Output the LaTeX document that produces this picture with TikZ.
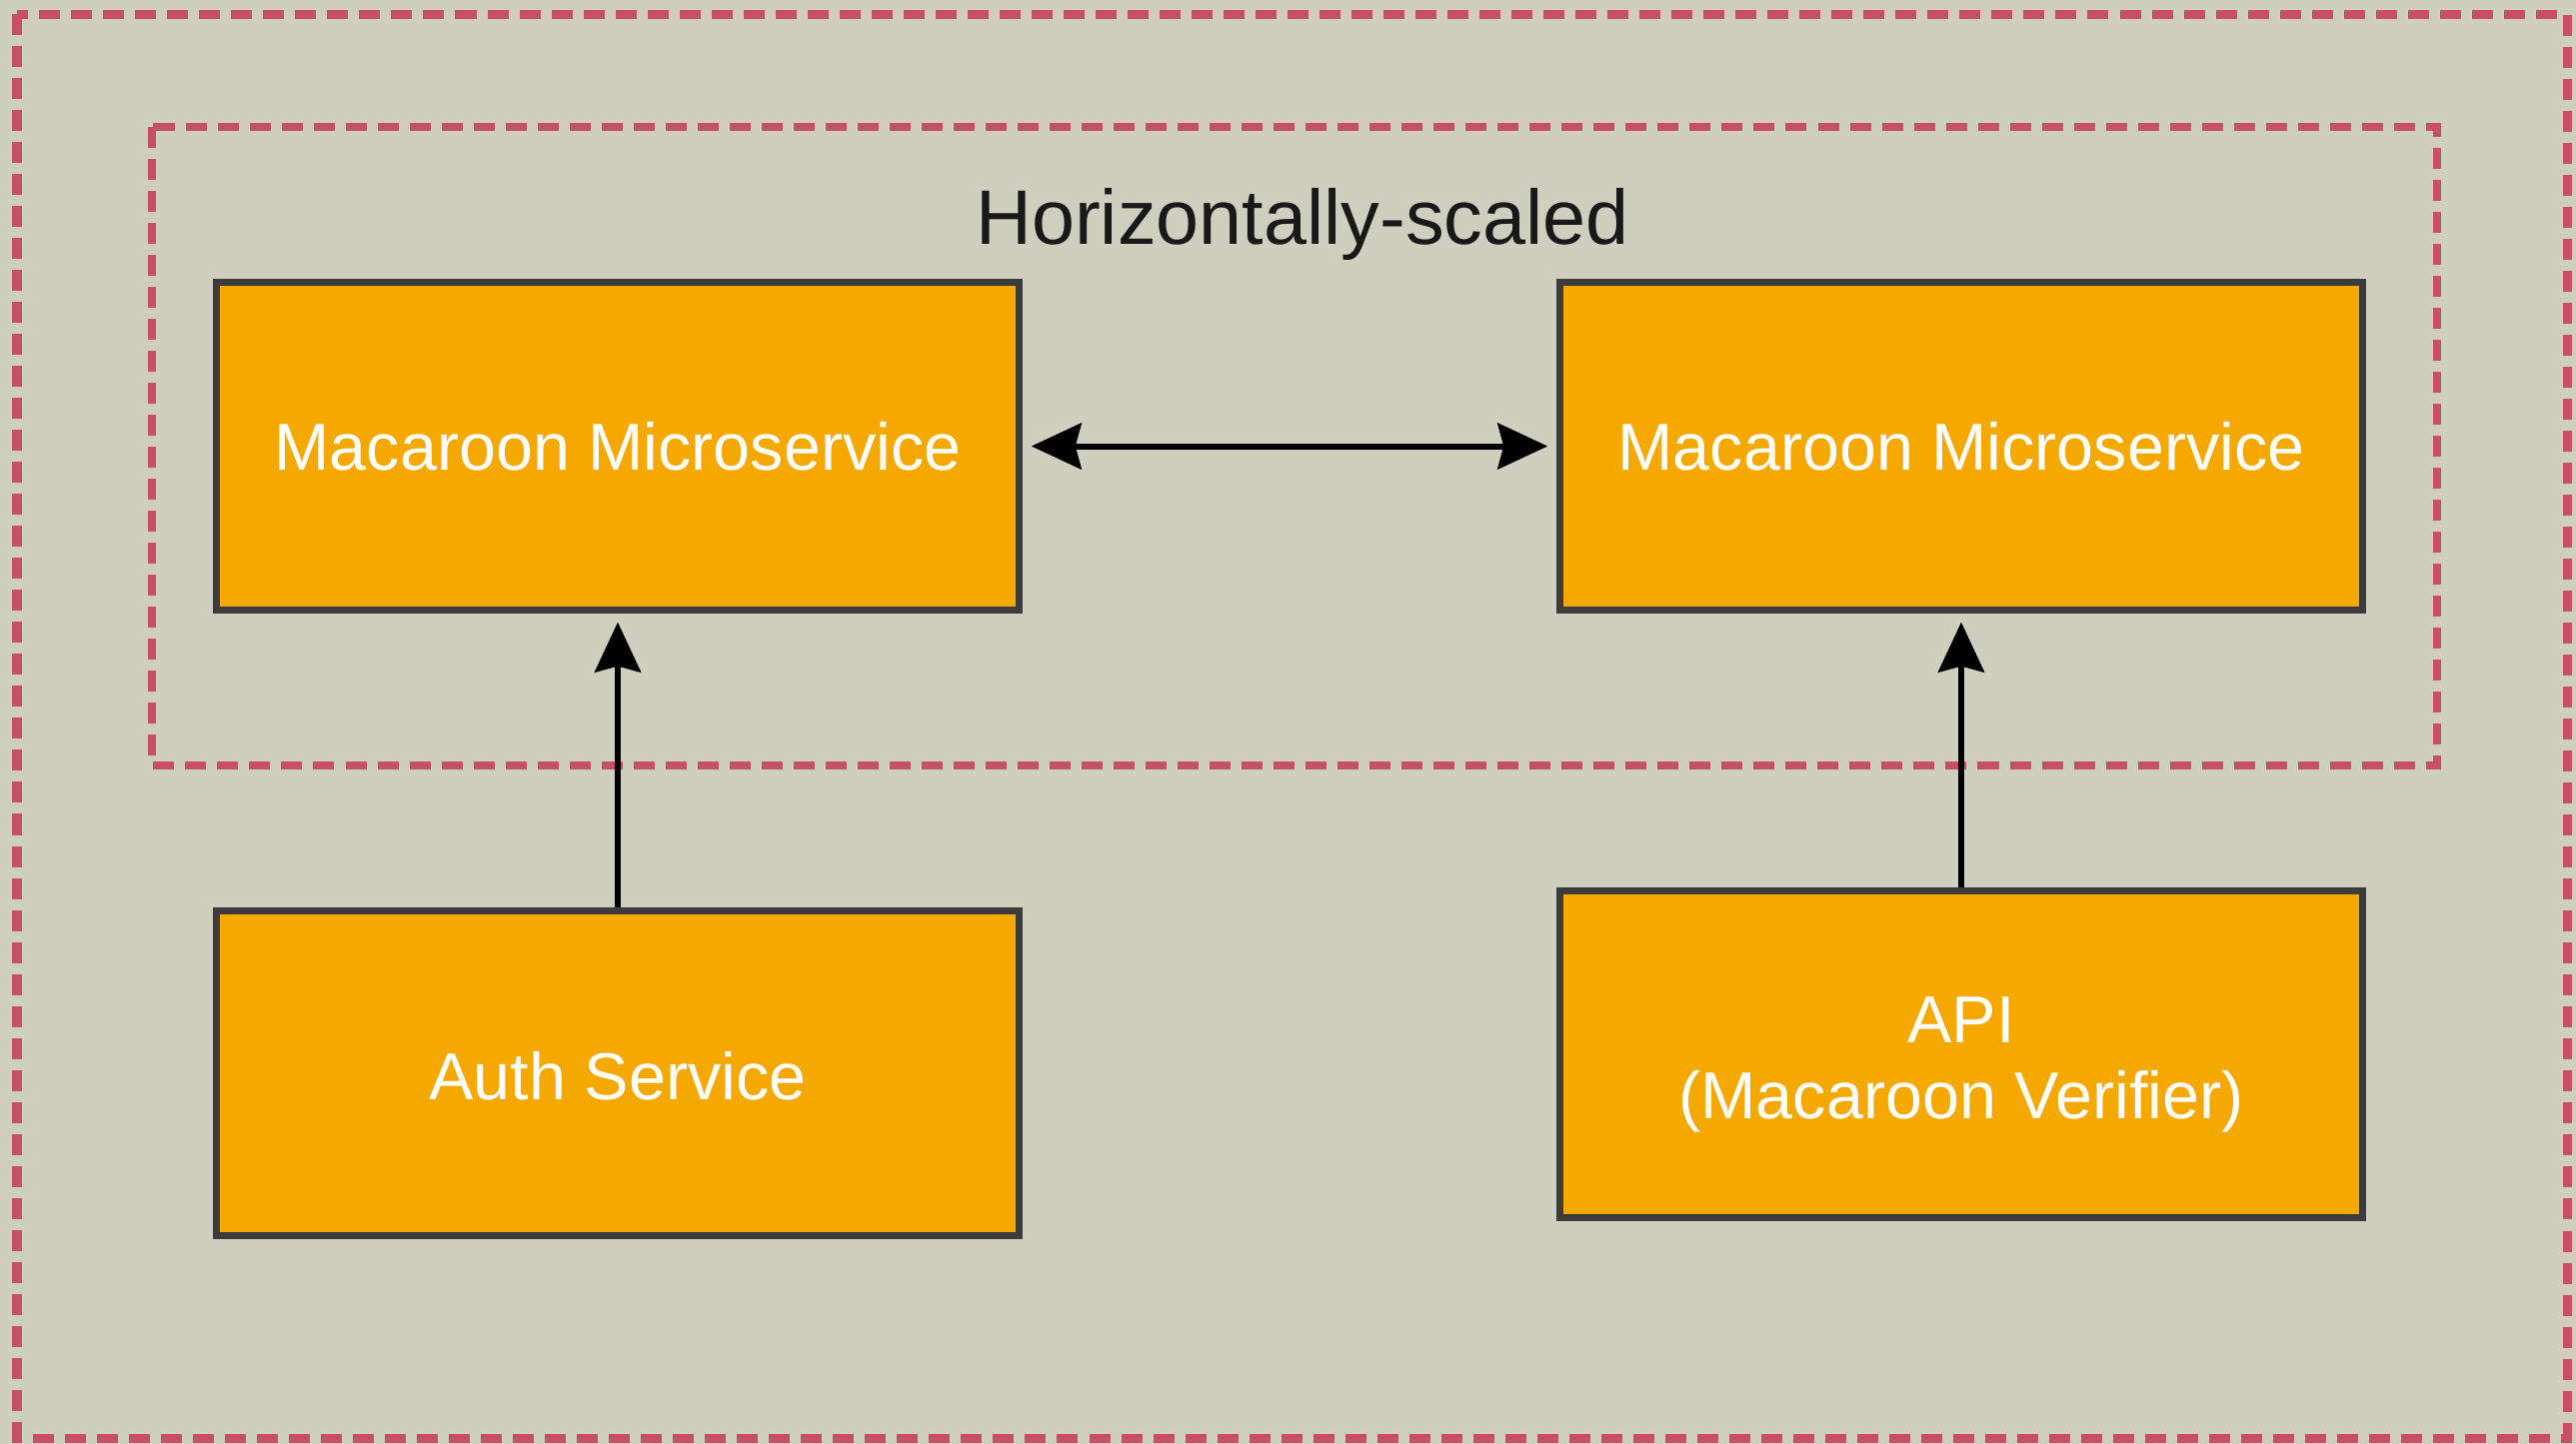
\documentclass[tikz,border=0pt]{standalone}
\usepackage{fontspec}
\setmainfont{Liberation Sans}
\usetikzlibrary{arrows.meta}

\definecolor{canvas}{RGB}{207,207,191}
\definecolor{svcfill}{RGB}{244,168,0}
\definecolor{svcedge}{RGB}{60,60,60}
\definecolor{zone}{RGB}{200,80,102}

\tikzset{
  service/.style={draw=svcedge, line width=0.07cm, fill=svcfill, text=white,
    minimum width=8.02cm, inner sep=0pt, align=center,
    font=\fontsize{18.9}{21.6}\selectfont},
  zoneline/.style={draw=zone, dash pattern=on 0.21cm off 0.11cm},
  flow/.style={line width=0.06cm, draw=black,
    -{Stealth[length=0.5cm, width=0.46cm, inset=0.06cm]}},
  twoway/.style={line width=0.06cm, draw=black,
    {Stealth[length=0.5cm, width=0.46cm, inset=0.06cm]}-{Stealth[length=0.5cm, width=0.46cm, inset=0.06cm]}},
}

\begin{document}
\begin{tikzpicture}[x=0.01cm, y=-0.01cm]
  % page background
  \fill[canvas] (0,0) rectangle (2577,1445);
  \useasboundingbox (0,0) rectangle (2577,1445);

  % deployment boundary and the scaled group
  \draw[zoneline, line width=0.09cm] (17,14) rectangle (2568,1439);
  \draw[zoneline, line width=0.075cm] (152,127) rectangle (2438,766);

  \node[font=\fontsize{22}{26}\selectfont, text=black!90] (title) at (1303,224) {Horizontally-scaled};

  % services
  \node[service, minimum height=3.27cm] (ms1) at (618,446.5) {Macaroon Microservice};
  \node[service, minimum height=3.27cm] (ms2) at (1962,446.5) {Macaroon Microservice};
  \node[service, minimum height=3.24cm] (auth) at (618,1074) {\rule{0pt}{15.5pt}Auth Service};
  \node[service, minimum height=3.26cm] (api) at (1962,1055) {\rule{0pt}{19.2pt}API\\(Macaroon Verifier)};

  % connectors
  \draw[twoway, shorten <=0.09cm, shorten >=0.09cm] (ms1.east) -- (ms2.west);
  \draw[flow, shorten >=0.09cm] (auth.north) -- (ms1.south);
  \draw[flow, shorten >=0.09cm] (api.north) -- (ms2.south);
\end{tikzpicture}
\end{document}
